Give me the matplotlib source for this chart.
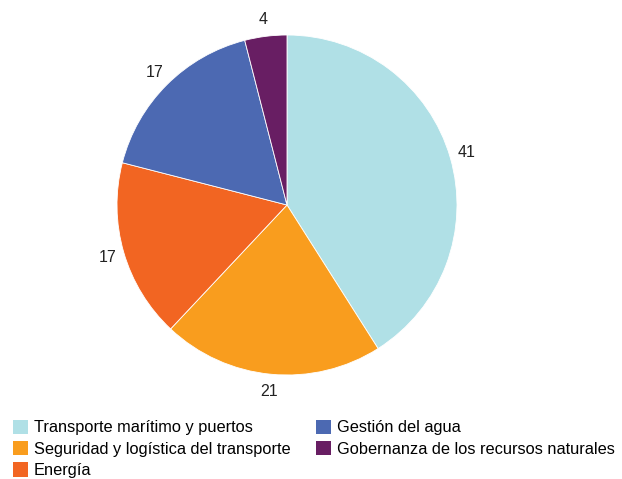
import matplotlib.pyplot as plt
from matplotlib.patches import Patch

plt.rcParams['font.family'] = ['Liberation Sans', 'DejaVu Sans']

# Datos del gráfico
categorias = ['Transporte marítimo y puertos', 'Seguridad y logística del transporte',
              'Energía', 'Gestión del agua', 'Gobernanza de los recursos naturales']
valores = [41, 21, 17, 17, 4]
colores = ['#b0e0e6', '#f99d1e', '#f26522', '#4c69b2', '#681e63']

W, H = 622, 479
fig = plt.figure(figsize=(W / 100, H / 100), dpi=100)

# eje del pastel: centro (287,205), radio 170 px
ax = fig.add_axes([117 / W, (H - 375) / H, 340 / W, 340 / H])
wedges, texts = ax.pie(valores, colors=colores, startangle=90, counterclock=False,
                       labels=[str(v) for v in valores], labeldistance=1.1,
                       wedgeprops=dict(edgecolor='white', linewidth=0.6),
                       textprops=dict(fontsize=11.5, color='#222222'))
for t in texts:
    t.set_ha('center')
    t.set_va('center')
ax.set_xlim(-1, 1)
ax.set_ylim(-1, 1)
ax.set_aspect('equal')

handles = [Patch(facecolor=c, edgecolor='none') for c in colores]
fig.legend(handles, categorias, loc='upper left', bbox_to_anchor=(6 / W, 1 - 413 / H),
           ncol=2, frameon=False, fontsize=11.8, handlelength=0.95, handleheight=0.95,
           handletextpad=0.35, labelspacing=0.35, columnspacing=1.55, borderaxespad=0)

fig.savefig('out.png', dpi=100)
